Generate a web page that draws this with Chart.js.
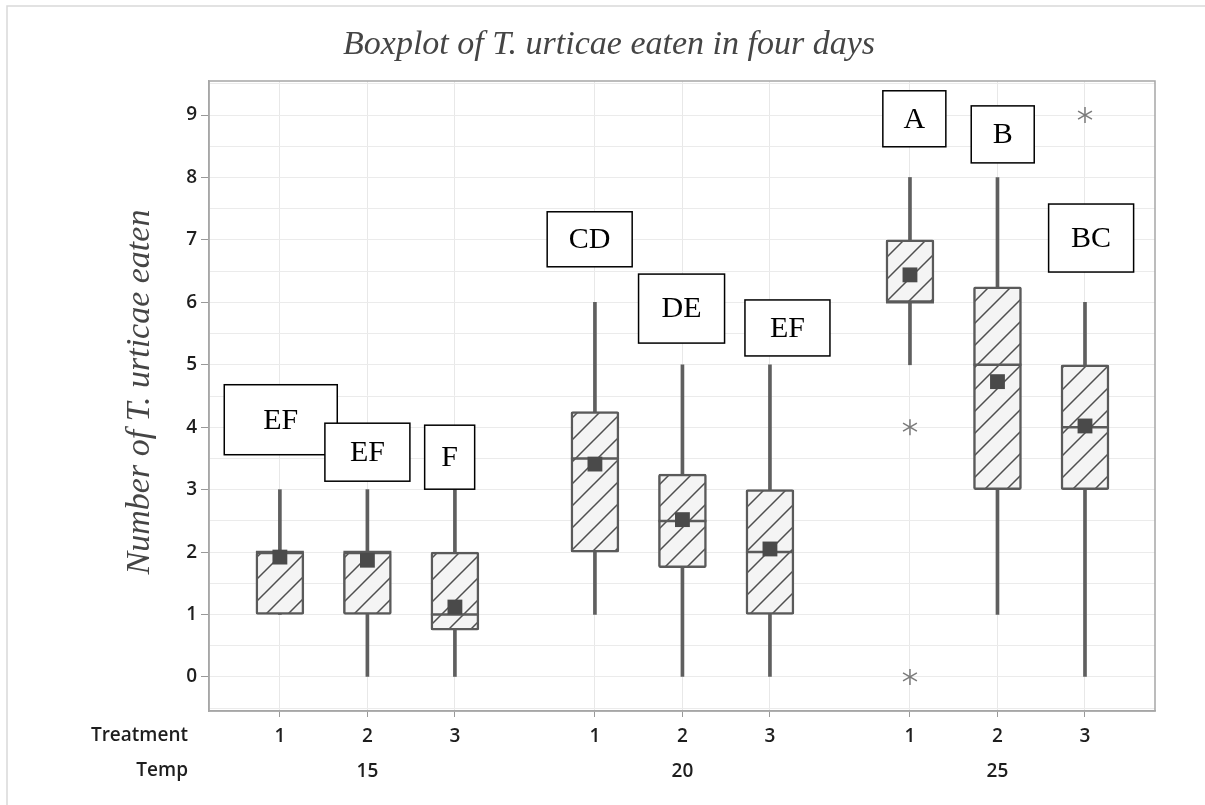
<!DOCTYPE html>
<html>
<head>
<meta charset="utf-8">
<script src="https://cdn.jsdelivr.net/npm/chart.js@4"></script>
<style>
  html, body { margin: 0; padding: 0; background: #fff; }
  #wrap { width: 1205px; height: 805px; }
</style>
</head>
<body>
<div id="wrap"><canvas id="boxChart" width="1205" height="805"></canvas></div>
<script>
// x positions of the nine boxes (three temps, three treatments each)
const xPos = [1, 2, 3, 4.6, 5.6, 6.6, 8.2, 9.2, 10.2];
const treatments = ['1', '2', '3', '1', '2', '3', '1', '2', '3'];
const temps = ['', '15', '', '', '20', '', '', '25', ''];

// box statistics
const whiskerLow  = [1, 0, 0, 1, 0, 0, 5, 1, 0];
const q1          = [1, 1, 0.75, 2, 1.75, 1, 6, 3, 3];
const medians     = [2, 2, 1, 3.5, 2.5, 2, 6, 5, 4];
const q3          = [2, 2, 2, 4.25, 3.25, 3, 7, 6.25, 5];
const whiskerHigh = [3, 3, 3, 6, 5, 5, 8, 8, 6];
const means       = [1.92, 1.87, 1.12, 3.41, 2.52, 2.05, 6.44, 4.73, 4.02];

// outliers
const outlierX = [8.2, 8.2, 10.2];
const outlierY = [4, 0, 9];

// significance letters
const letterText = ['EF', 'EF', 'F', 'CD', 'DE', 'EF', 'A', 'B', 'BC'];
const letterX = [1.01, 2.0, 2.94, 4.54, 5.59, 6.8, 8.25, 9.26, 10.27];
const letterY = [4.12, 3.6, 3.52, 7.01, 5.9, 5.59, 8.94, 8.69, 7.03];
const letterW = [113, 85, 50, 85, 86, 85, 63, 63, 85];
const letterH = [70, 58, 64, 55, 69, 56, 56, 57, 68];

function hatchPattern() {
    const c = document.createElement('canvas');
    c.width = 22; c.height = 22;
    const g = c.getContext('2d');
    g.fillStyle = '#f4f4f4';
    g.fillRect(0, 0, 22, 22);
    g.strokeStyle = '#4f4f4f';
    g.lineWidth = 1.5;
    g.beginPath();
    g.moveTo(-11, 11); g.lineTo(11, -11);
    g.moveTo(0, 22); g.lineTo(22, 0);
    g.moveTo(11, 33); g.lineTo(33, 11);
    g.stroke();
    return g.createPattern(c, 'repeat');
}

const extras = {
    id: 'extras',
    beforeDraw(chart) {
        const ctx = chart.ctx;
        ctx.save();
        ctx.strokeStyle = '#d9d9d9';
        ctx.lineWidth = 1.5;
        ctx.beginPath();
        ctx.moveTo(7, 805); ctx.lineTo(7, 6); ctx.lineTo(1205, 6);
        ctx.stroke();
        ctx.restore();
    },
    afterDatasetsDraw(chart) {
        const ctx = chart.ctx;
        const xs = chart.scales.x, ys = chart.scales.y;
        const area = chart.chartArea;
        ctx.save();
        // frame
        ctx.strokeStyle = '#a6a6a6';
        ctx.lineWidth = 1.5;
        ctx.strokeRect(area.left, area.top, area.right - area.left, area.bottom - area.top);

        // letter boxes
        ctx.font = '30px "Liberation Serif", "Times New Roman", serif';
        ctx.textAlign = 'center';
        ctx.textBaseline = 'middle';
        letterText.forEach((t, i) => {
            const cx = xs.getPixelForValue(letterX[i]);
            const cy = ys.getPixelForValue(letterY[i]);
            const w = letterW[i], h = letterH[i];
            ctx.fillStyle = '#fff';
            ctx.fillRect(cx - w / 2, cy - h / 2, w, h);
            ctx.strokeStyle = '#000';
            ctx.lineWidth = 1.5;
            ctx.strokeRect(cx - w / 2, cy - h / 2, w, h);
            ctx.fillStyle = '#000';
            ctx.fillText(t, cx, cy + 1);
        });

        // title
        ctx.fillStyle = '#454545';
        ctx.font = 'italic 34px "Liberation Serif", "Times New Roman", serif';
        ctx.fillText('Boxplot of T. urticae eaten in four days', 609, 45);

        // y axis title
        ctx.save();
        ctx.translate(140, 392);
        ctx.rotate(-Math.PI / 2);
        ctx.fillText('Number of T. urticae eaten', 0, 0);
        ctx.restore();

        // row labels under x axis
        ctx.fillStyle = '#1e1e1e';
        ctx.font = '600 19px "Open Sans", sans-serif';
        ctx.textAlign = 'right';
        ctx.fillText('Treatment', 188, 736);
        ctx.fillText('Temp', 188, 771);
        ctx.restore();
    }
};

const outlierStyle = {
    type: 'scatter',
    data: outlierX.map((x, i) => ({ x: x, y: outlierY[i] })),
    pointStyle: 'line',
    radius: 8,
    borderColor: '#7a7a7a',
    borderWidth: 1.5,
    order: 0
};

new Chart(document.getElementById('boxChart'), {
    type: 'bar',
    data: {
        datasets: [
            {
                type: 'bar',
                label: 'whiskers',
                data: xPos.map((x, i) => ({ x: x, y: [whiskerLow[i], whiskerHigh[i]] })),
                backgroundColor: '#5f5f5f',
                borderWidth: 0,
                barThickness: 3,
                grouped: false,
                order: 4
            },
            {
                type: 'bar',
                label: 'boxes',
                data: xPos.map((x, i) => ({ x: x, y: [q1[i], q3[i]] })),
                backgroundColor: hatchPattern(),
                borderColor: '#5a5a5a',
                borderWidth: 2.5,
                borderSkipped: false,
                borderRadius: 2,
                barThickness: 48,
                grouped: false,
                order: 3
            },
            {
                type: 'scatter',
                label: 'median',
                data: xPos.map((x, i) => ({ x: x, y: medians[i] })),
                pointStyle: 'line',
                radius: 24,
                borderColor: '#5a5a5a',
                borderWidth: 2.5,
                order: 2
            },
            {
                type: 'scatter',
                label: 'mean',
                data: xPos.map((x, i) => ({ x: x, y: means[i] })),
                pointStyle: 'rect',
                radius: 10.5,
                backgroundColor: '#4a4a4a',
                borderWidth: 0,
                order: 1
            },
            Object.assign({}, outlierStyle, { label: 'out1', rotation: 90 }),
            Object.assign({}, outlierStyle, { label: 'out2', rotation: 30 }),
            Object.assign({}, outlierStyle, { label: 'out3', rotation: 150 })
        ]
    },
    options: {
        responsive: false,
        animation: false,
        events: [],
        layout: { padding: { top: 81, right: 50, left: 0, bottom: 0 } },
        plugins: {
            legend: { display: false },
            title: { display: false },
            tooltip: { enabled: false }
        },
        scales: {
            x: {
                type: 'linear',
                min: 0.19,
                max: 11.0,
                offset: false,
                afterBuildTicks(scale) {
                    scale.ticks = xPos.map(v => ({ value: v }));
                },
                afterFit(scale) { scale.height = 94; },
                grid: { offset: false, color: '#e8e8e8', tickColor: '#999', tickLength: 6 },
                border: { color: '#a6a6a6', width: 1.5 },
                ticks: {
                    autoSkip: false,
                    maxRotation: 0,
                    padding: 2,
                    color: '#1e1e1e',
                    font: { family: '"Open Sans", sans-serif', size: 19, weight: '600', lineHeight: 1.84 },
                    callback(value, index) { return [treatments[index], temps[index]]; }
                }
            },
            y: {
                min: -0.545,
                max: 9.545,
                afterBuildTicks(scale) {
                    const t = [];
                    for (let v = -0.5; v <= 9.5; v += 0.5) t.push({ value: v });
                    scale.ticks = t;
                },
                afterFit(scale) { scale.width = 209; },
                grid: {
                    color: '#ebebeb',
                    tickLength: 8,
                    tickColor: ctx => (Number.isInteger(ctx.tick.value) ? '#999' : 'rgba(0,0,0,0)')
                },
                border: { color: '#a6a6a6', width: 1.5 },
                ticks: {
                    padding: 4,
                    color: '#1e1e1e',
                    font: { family: '"Open Sans", sans-serif', size: 19, weight: '600' },
                    callback(value) { return Number.isInteger(value) ? String(value) : ''; }
                }
            }
        }
    },
    plugins: [extras]
});
</script>
</body>
</html>
